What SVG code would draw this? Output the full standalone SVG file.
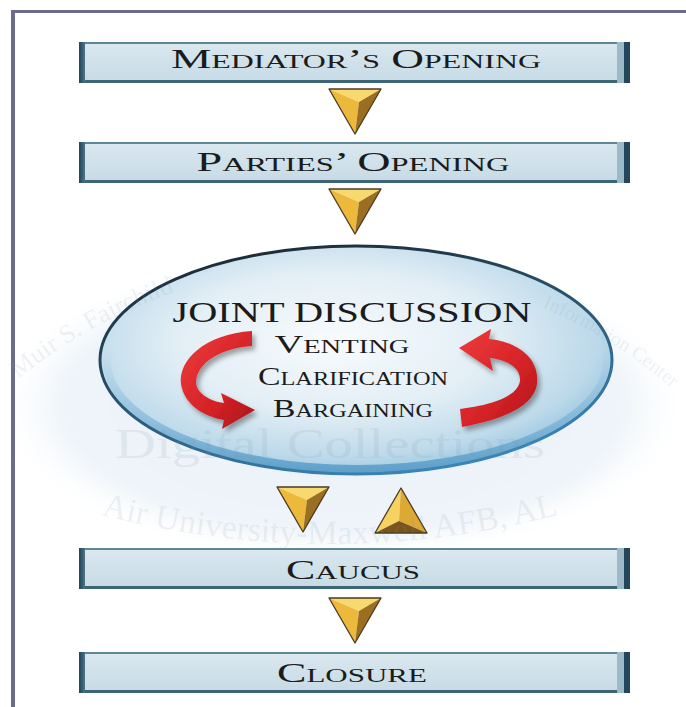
<svg xmlns="http://www.w3.org/2000/svg" width="686" height="707" viewBox="0 0 686 707">
  <style>
    .lbl { font-family: "Liberation Serif", "Times New Roman", serif; fill: #1b1b1b; text-anchor: middle; font-variant: small-caps; }
    .box-fill { fill: url(#boxGrad); }
    .box-top { fill: #5e8798; }
    .box-bot { fill: #3c6576; }
    .box-left { fill: url(#leftEnd); }
    .box-rl { fill: #9cb9c8; }
    .box-rd { fill: #22475a; }
    .wm { font-family: "Liberation Serif", "Times New Roman", serif; fill: #7f8fa3; fill-opacity: 0.13; }
  </style>
  <defs>
    <linearGradient id="boxGrad" x1="0" y1="0" x2="0" y2="1">
      <stop offset="0" stop-color="#dbe8ef"/>
      <stop offset="1" stop-color="#c6dae5"/>
    </linearGradient>
    <linearGradient id="leftEnd" x1="0" y1="0" x2="1" y2="0">
      <stop offset="0" stop-color="#1f4354"/>
      <stop offset="1" stop-color="#4c7588"/>
    </linearGradient>
    <radialGradient id="ellGrad" cx="0.46" cy="0.42" r="0.62">
      <stop offset="0" stop-color="#f8fbfd"/>
      <stop offset="0.5" stop-color="#e2eef5"/>
      <stop offset="0.82" stop-color="#bcd9ea"/>
      <stop offset="1" stop-color="#8fc0dd"/>
    </radialGradient>
    <linearGradient id="rimGrad" x1="0.2" y1="0" x2="0.7" y2="1">
      <stop offset="0" stop-color="#1b2731"/>
      <stop offset="0.55" stop-color="#2b5a78"/>
      <stop offset="1" stop-color="#3c88bb"/>
    </linearGradient>
    <linearGradient id="innerRim" x1="0" y1="0" x2="0" y2="1">
      <stop offset="0.45" stop-color="#6fb0d8" stop-opacity="0"/>
      <stop offset="1" stop-color="#4f97c6" stop-opacity="0.8"/>
    </linearGradient>
    <radialGradient id="bgGlow" cx="0.5" cy="0.5" r="0.5">
      <stop offset="0" stop-color="#e9f1f8"/>
      <stop offset="0.8" stop-color="#eef4f9"/>
      <stop offset="1" stop-color="#ffffff" stop-opacity="0"/>
    </radialGradient>
    <linearGradient id="redGrad" x1="0" y1="0" x2="1" y2="1">
      <stop offset="0" stop-color="#ee3b3c"/>
      <stop offset="0.6" stop-color="#d42226"/>
      <stop offset="1" stop-color="#a9141a"/>
    </linearGradient>
    <filter id="shadow" x="-20%" y="-20%" width="150%" height="150%">
      <feDropShadow dx="3" dy="4" stdDeviation="2.5" flood-color="#000" flood-opacity="0.35"/>
    </filter>
    <filter id="soft" x="-10%" y="-20%" width="120%" height="140%">
      <feGaussianBlur stdDeviation="5"/>
    </filter>
    <g id="triDown">
      <polygon points="0,0 52,0 30,13" fill="#f8d970"/>
      <polygon points="0,0 30,13 26,45" fill="#ecb93c"/>
      <polygon points="52,0 26,45 30,13" fill="#9b6f22"/>
      <polygon points="0,0 52,0 26,45" fill="none" stroke="#4a3b22" stroke-width="1.3" stroke-linejoin="round"/>
    </g>
    <g id="triUp">
      <polygon points="26,0 0,45 24,33" fill="#f6d262"/>
      <polygon points="26,0 52,45 24,33" fill="#dca935"/>
      <polygon points="0,45 52,45 24,33" fill="#7a5519"/>
      <polygon points="26,0 0,45 52,45" fill="none" stroke="#4a3b22" stroke-width="1.3" stroke-linejoin="round"/>
    </g>
    <path id="arcTopL" d="M 18 379 A 510 510 0 0 1 208 282"/>
    <path id="arcTopR" d="M 542 307 A 510 510 0 0 1 694 408"/>
    <path id="arcBot" d="M 60 503 A 909 909 0 0 0 600 503"/>
  </defs>

  <rect width="686" height="707" fill="#ffffff"/>
  <!-- faint background seal -->
  <ellipse cx="343" cy="405" rx="350" ry="158" fill="url(#bgGlow)" filter="url(#soft)"/>

  <!-- frame -->
  <rect x="11" y="10" width="675" height="3" fill="#6d6b8c"/>
  <rect x="11" y="10" width="4" height="697" fill="#6d6b8c"/>

  <g id="node-mediator">
    <rect class="box-fill" x="79" y="42" width="551" height="41"/>
    <rect class="box-top" x="79" y="42" width="551" height="2"/>
    <rect class="box-bot" x="79" y="80" width="551" height="3"/>
    <rect class="box-left" x="79" y="42" width="6" height="41"/>
    <rect class="box-rl" x="617" y="42" width="7" height="41"/>
    <rect class="box-rd" x="624" y="42" width="6" height="41"/>
    <text class="lbl" x="356" y="68" font-size="27" textLength="370" lengthAdjust="spacingAndGlyphs">Mediator’s Opening</text>
  </g>

  <g id="node-parties">
    <rect class="box-fill" x="79" y="142" width="551" height="41"/>
    <rect class="box-top" x="79" y="142" width="551" height="2"/>
    <rect class="box-bot" x="79" y="180" width="551" height="3"/>
    <rect class="box-left" x="79" y="142" width="6" height="41"/>
    <rect class="box-rl" x="617" y="142" width="7" height="41"/>
    <rect class="box-rd" x="624" y="142" width="6" height="41"/>
    <text class="lbl" x="353" y="171" font-size="27" textLength="313" lengthAdjust="spacingAndGlyphs">Parties’ Opening</text>
  </g>

  <g id="node-joint">
    <ellipse cx="356" cy="360" rx="256" ry="114" fill="url(#ellGrad)"/>
    <ellipse cx="357" cy="361" rx="250" ry="108" fill="none" stroke="url(#innerRim)" stroke-width="8"/>
    <ellipse cx="356" cy="360" rx="256" ry="114" fill="none" stroke="url(#rimGrad)" stroke-width="3"/>
    <text x="352" y="322" font-family="Liberation Serif, Times New Roman, serif" font-size="30" fill="#1b1b1b" text-anchor="middle" textLength="359" lengthAdjust="spacingAndGlyphs">JOINT DISCUSSION</text>
    <text class="lbl" x="342" y="353" font-size="25" textLength="135" lengthAdjust="spacingAndGlyphs">Venting</text>
    <text class="lbl" x="353" y="385" font-size="25" textLength="190" lengthAdjust="spacingAndGlyphs">Clarification</text>
    <text class="lbl" x="353" y="417" font-size="25" textLength="160" lengthAdjust="spacingAndGlyphs">Bargaining</text>
    <path filter="url(#shadow)" fill="url(#redGrad)" d="M 252 331 C 205 334 178 360 181 384 C 184 405 205 417 224 420 L 222 429 L 255 410 L 221 393 L 224 403 C 208 401 196 392 196 382 C 197 362 222 348 252 346 Z"/>
    <path filter="url(#shadow)" fill="url(#redGrad)" d="M 459 348 L 491 329 L 489 339 C 520 342 540 360 537 384 C 533 408 500 420 462 427 L 460 409 C 495 405 518 395 520 381 C 521 368 508 360 490 358 L 493 371 Z"/>
  </g>

  <g id="node-caucus">
    <rect class="box-fill" x="79" y="548" width="551" height="41"/>
    <rect class="box-top" x="79" y="548" width="551" height="2"/>
    <rect class="box-bot" x="79" y="586" width="551" height="3"/>
    <rect class="box-left" x="79" y="548" width="6" height="41"/>
    <rect class="box-rl" x="617" y="548" width="7" height="41"/>
    <rect class="box-rd" x="624" y="548" width="6" height="41"/>
    <text class="lbl" x="353" y="579" font-size="27" textLength="134" lengthAdjust="spacingAndGlyphs">Caucus</text>
  </g>

  <g id="node-closure">
    <rect class="box-fill" x="79" y="652" width="551" height="41"/>
    <rect class="box-top" x="79" y="652" width="551" height="2"/>
    <rect class="box-bot" x="79" y="690" width="551" height="3"/>
    <rect class="box-left" x="79" y="652" width="6" height="41"/>
    <rect class="box-rl" x="617" y="652" width="7" height="41"/>
    <rect class="box-rd" x="624" y="652" width="6" height="41"/>
    <text class="lbl" x="352" y="682" font-size="27" textLength="150" lengthAdjust="spacingAndGlyphs">Closure</text>
  </g>

  <g id="connectors">
    <use href="#triDown" x="329" y="89"/>
    <use href="#triDown" x="329" y="189"/>
    <use href="#triDown" x="277" y="487"/>
    <use href="#triUp" x="375" y="488"/>
    <use href="#triDown" x="329" y="598"/>
  </g>

  <!-- watermark -->
  <g id="watermark">
    <text class="wm" font-size="26"><textPath href="#arcTopL">Muir S. Fairchild</textPath></text>
    <text class="wm" font-size="20"><textPath href="#arcTopR">Information Center</textPath></text>
    <text class="wm" x="330" y="458" font-size="42" text-anchor="middle" textLength="430" lengthAdjust="spacingAndGlyphs">Digital Collections</text>
    <text class="wm" font-size="34"><textPath href="#arcBot" startOffset="50%" text-anchor="middle">Air University-Maxwell AFB, AL</textPath></text>
  </g>
</svg>
